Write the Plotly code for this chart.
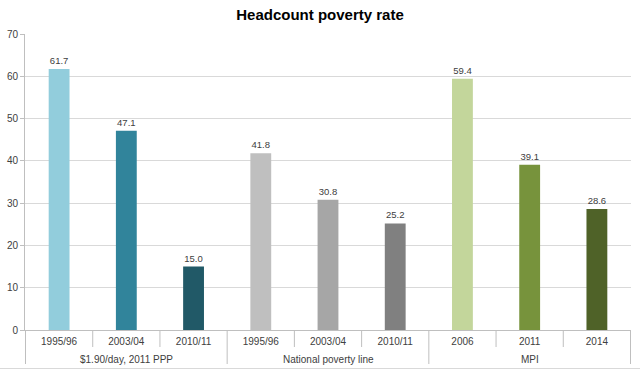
import plotly.graph_objects as go

groups = ["$1.90/day, 2011 PPP", "National poverty line", "MPI"]
group_of_bar = [0, 0, 0, 1, 1, 1, 2, 2, 2]
years = ["1995/96", "2003/04", "2010/11", "1995/96", "2003/04", "2010/11", "2006", "2011", "2014"]
values = [61.7, 47.1, 15.0, 41.8, 30.8, 25.2, 59.4, 39.1, 28.6]
colors = ["#92CDDC", "#31849B", "#215967", "#BFBFBF", "#A6A6A6", "#808080",
          "#C3D69B", "#77933C", "#4F6228"]

ids = [f"c{i}" for i in range(len(values))]
W, H = 640, 370
ML, MR, MT, MB = 25, 9, 34, 40
plot_h = H - MT - MB
line_col = "#BFBFBF"

fig = go.Figure(go.Bar(
    x=ids, y=values,
    marker=dict(color=colors, line=dict(width=0)),
    width=0.31,
    text=[f"{v:.1f}" for v in values], textposition="outside",
    textfont=dict(size=9.5, color="#404040", family="Liberation Sans, Arial"),
    cliponaxis=False, hoverinfo="skip",
))

shapes = []
# thin separators between every category (first label row)
for i in range(len(values) - 1):
    if group_of_bar[i] == group_of_bar[i + 1]:
        shapes.append(dict(type="line", xref="x", yref="paper", x0=i + 0.5, x1=i + 0.5,
                           y0=0, y1=-17 / plot_h, line=dict(color=line_col, width=1)))
# group dividers (through both label rows)
bounds = [-0.5] + [i + 0.5 for i in range(len(values) - 1)
                   if group_of_bar[i] != group_of_bar[i + 1]] + [len(values) - 0.5]
for b in bounds:
    shapes.append(dict(type="line", xref="x", yref="paper", x0=b, x1=b,
                       y0=0, y1=-34 / plot_h, line=dict(color=line_col, width=1)))
# outer border at the bottom of the chart area
shapes.append(dict(type="line", xref="paper", yref="paper", x0=-ML / (W - ML - MR),
                   x1=1 + MR / (W - ML - MR), y0=-38.5 / plot_h, y1=-38.5 / plot_h,
                   line=dict(color="#D9D9D9", width=1)))

annotations = []
for g, name in enumerate(groups):
    idx = [i for i, gb in enumerate(group_of_bar) if gb == g]
    annotations.append(dict(text=name, xref="x", yref="paper",
                            x=(idx[0] + idx[-1]) / 2, y=-29 / plot_h,
                            xanchor="center", yanchor="middle", showarrow=False,
                            font=dict(size=10, color="#404040")))

fig.update_layout(
    width=W, height=H,
    margin=dict(l=ML, r=MR, t=MT, b=MB, autoexpand=False),
    paper_bgcolor="white", plot_bgcolor="white",
    title=dict(text="<b>Headcount poverty rate</b>", x=0.5, xanchor="center",
               y=1 - 15 / H, yref="container", yanchor="middle",
               font=dict(size=15, color="black", family="Liberation Sans, Arial")),
    font=dict(family="Liberation Sans, Arial", size=10, color="#404040"),
    showlegend=False, shapes=shapes, annotations=annotations,
)
fig.update_yaxes(range=[0, 70], dtick=10, showgrid=True, gridcolor="#D9D9D9",
                 showline=True, linecolor=line_col, ticks="outside", ticklen=4,
                 tickcolor=line_col, tickfont=dict(size=10, color="#404040"),
                 zeroline=False, automargin=False, fixedrange=True)
fig.update_xaxes(type="category", tickvals=ids, ticktext=years,
                 showline=True, linecolor=line_col, ticks="", ticklabelstandoff=2,
                 tickfont=dict(size=10, color="#404040"), automargin=False,
                 fixedrange=True)

fig.write_html("out.html", config={"displayModeBar": False})
# remove default body margin so the 640x370 figure fills the window
with open("out.html", encoding="utf-8") as f:
    html = f.read()
html = html.replace("<head>", "<head><style>html,body{margin:0;padding:0;overflow:hidden;}</style>", 1)
with open("out.html", "w", encoding="utf-8") as f:
    f.write(html)
